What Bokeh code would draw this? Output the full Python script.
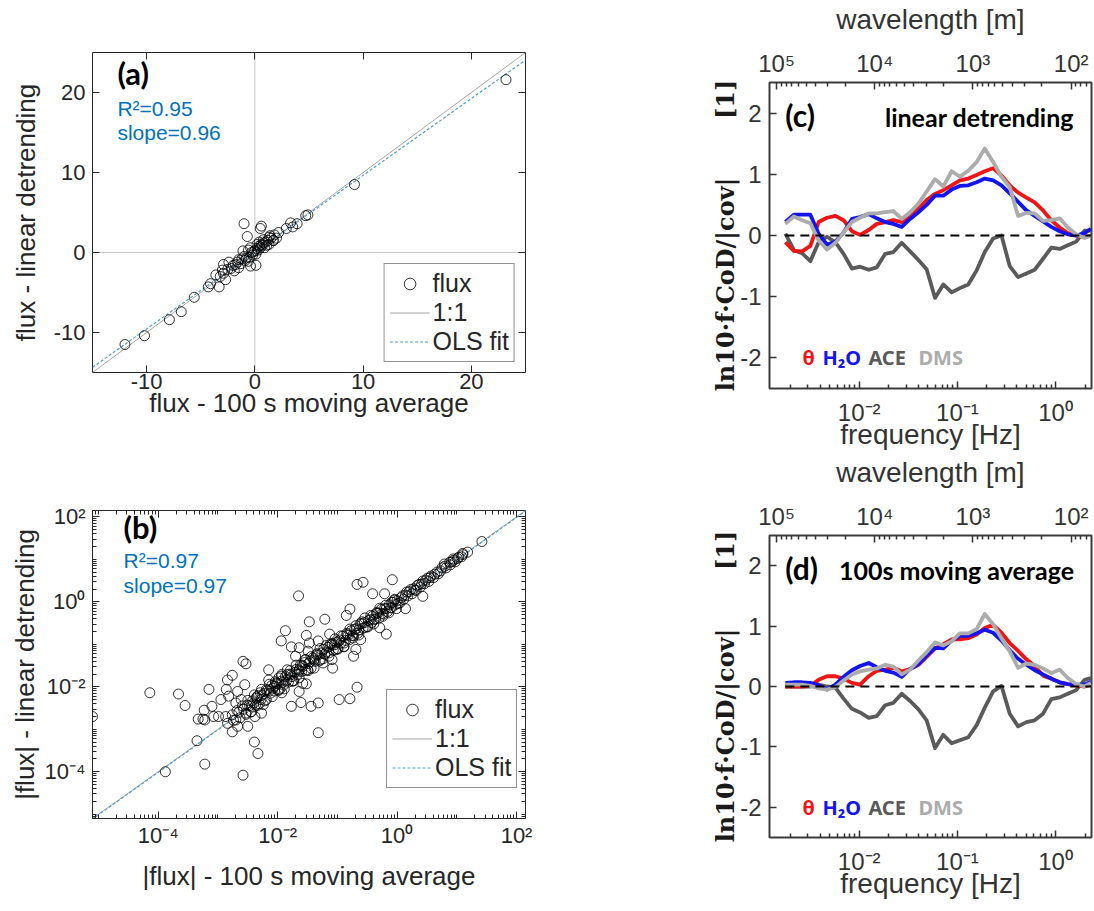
from bokeh.plotting import figure
from bokeh.layouts import row, column
from bokeh.models import (Range1d, LinearAxis, LogAxis, LogScale, FixedTicker, Span, Label,
                          Legend, LegendItem, CustomJSTickFormatter)
from bokeh.embed import file_html
from bokeh.resources import INLINE

# ------------------------------------------------------------------ data
# (a) flux from 100 s moving average (x) vs linear detrending (y)
a_x = [23.2, 9.2, 4.7, 4.9, -1.0, 0.6, 0.5, -0.7, 3.3, 3.9, 2.9, 3.5, 1.4, 2.2, 1.8,
       0.1, -0.4, -2.9, -3.0, -2.9, -3.2, -4.1, -4.3, -3.3, -5.6, -6.8, -7.9, -10.2, -12.0,
       -2.5, -2.0, -1.5, -1.6, -1.2, -1.0, -0.8, -0.6, -0.3, 0.0, 0.2, 0.4, 0.6, 0.8, 1.0,
       1.2, 1.5, 0.3, -0.2, 0.5, 0.7, -0.5, -0.9, -1.8, -2.2, 1.1, 0.9, 1.3, -1.3, -0.1,
       0.1, -0.4, -1.1, 0.4, 1.7, 2.0, -3.6, -2.7, -2.4, -1.9, 0.2, 0.8, -0.6, 1.3, -1.5, 1.7]
a_y = [21.6, 8.5, 4.6, 4.7, 3.6, 3.3, 3.0, 2.0, 3.7, 3.6, 3.0, 3.2, 2.1, 2.5, 2.2,
       -1.6, -1.7, -1.5, -2.2, -2.6, -3.0, -3.9, -4.3, -4.3, -5.6, -7.4, -8.4, -10.4, -11.5,
       -2.1, -1.6, -0.9, -1.2, -0.8, -0.5, -0.7, 0.3, 0.0, 0.2, 0.5, 0.8, 1.0, 1.2, 1.3,
       1.5, 1.8, 0.3, -0.3, 0.6, 0.9, -0.6, -1.0, -1.5, -2.0, 0.9, 0.6, 1.0, -1.4, 0.1,
       -0.2, 0.6, 0.2, 1.3, 1.5, 1.8, -2.8, -3.4, -1.2, -2.3, 1.0, 1.6, -1.1, 1.9, -1.9, 1.5]
stats_a = {"R2": 0.95, "slope": 0.96, "intercept": 0.05}

# (b) |flux| values as log10 exponents
# scattered points
b_out_x = [-5.10, -4.14, -3.66, -3.55, -3.88, -3.22, -3.35, -2.58, -2.39, -2.33, -1.32, -3.33,
           -3.25, -3.22, -3.07, -2.99, -2.87, -3.23, -3.10, -3.15, -2.95, -2.86, -2.84, -2.76,
           -2.58, -2.53, -2.82, -2.70, -2.61, -2.67, -2.55, -2.76, -2.67, -2.84, -2.50, -2.38,
           -2.27, -2.53, -2.44, -2.35, -2.27, -2.15, -2.15, -2.05, -1.98, -1.93, -1.84, -1.93,
           -1.77, -1.61, -1.44, -1.32, -0.67, -0.97, -0.79, -1.64, -1.58, -1.52, -1.76, -1.64,
           -1.53, -1.70, -1.94, -1.87, -1.77, -1.64, -1.49, -1.47, -1.52, -1.32, -1.47, -1.21,
           -1.13, -1.01, -1.09, -1.08, -1.24, -0.89, -0.69, -0.73, -0.61, -0.85, -0.79, -0.67,
           -0.57, -0.41, -0.21, -0.08, -0.01, 0.14, 0.43, -0.29, -0.18, -1.65,
           1.42, 1.18, 1.10, 0.94, 0.88, 0.79]
b_out_y = [-2.70, -2.14, -2.17, -2.44, -4.00, -3.82, -3.27, -4.08, -3.30, -3.57, -3.08, -2.76,
           -2.76, -2.78, -2.70, -2.70, -2.70, -2.55, -2.46, -2.06, -2.30, -2.06, -1.84, -1.73,
           -1.40, -1.46, -2.22, -2.38, -2.30, -2.11, -1.95, -3.06, -2.93, -2.86, -2.93, -2.70,
           -2.62, -2.62, -2.46, -2.27, -2.06, -1.60, -1.84, -1.98, -1.79, -1.71, -1.60, -2.14,
           -2.46, -2.37, -2.46, -2.38, -2.01, -2.30, -2.28, -2.11, -1.92, -1.93, -1.76, -1.60,
           -1.36, -1.28, -0.92, -0.68, -1.06, -1.08, -1.16, -0.97, -0.79, -0.92, -0.47, -0.41,
           -0.76, -0.95, -1.36, -1.56, -1.44, -1.06, -1.12, -1.28, -0.89, -0.32, -0.17, 0.41,
           0.46, 0.19, 0.19, 0.52, -0.16, -0.16, 0.13, -0.61, -0.76, 0.14,
           1.42, 1.17, 1.14, 1.01, 0.93, 0.89]
# dense band close to the 1:1 line
b_band_x = [-2.76, -2.70, -2.65, -2.59, -2.53, -2.47, -2.42, -2.37, -2.33, -2.28, -2.23, -2.19,
            -2.14, -2.10, -2.05, -2.01, -1.96, -1.92, -1.87, -1.82, -1.78, -1.73, -1.69, -1.64,
            -1.60, -1.55, -1.50, -1.46, -1.41, -1.37, -1.32, -1.28, -1.23, -1.18, -1.14, -1.09,
            -1.05, -1.00, -0.96, -0.91, -0.86, -0.82, -0.77, -0.73, -0.68, -0.64, -0.59, -0.55,
            -0.50, -0.45, -0.41, -0.36, -0.32, -0.27, -0.23, -0.18, -0.13, -0.09, -0.04, 0.00,
            0.05, 0.09, 0.14, 0.18, 0.23, 0.28, 0.32, 0.37, 0.41, 0.46, 0.51, 0.55, 0.61, 0.67,
            0.73, 0.80, 0.89, 0.95, 1.01, 1.08,
            -2.74, -2.68, -2.63, -2.57, -2.51, -2.45, -2.40, -2.35, -2.31, -2.26, -2.21, -2.17,
            -2.12, -2.08, -2.03, -1.99, -1.94, -1.90, -1.85, -1.80, -1.76, -1.71, -1.67, -1.62,
            -1.58, -1.53, -1.48, -1.44, -1.39, -1.35, -1.30, -1.26, -1.21, -1.16, -1.12, -1.07,
            -1.03, -0.98, -0.94, -0.89, -0.84, -0.80, -0.75, -0.71, -0.66, -0.62, -0.57, -0.53,
            -0.48, -0.43, -0.39, -0.34, -0.30, -0.25, -0.21, -0.16, -0.11, -0.07, -0.02, 0.02,
            0.07, 0.11, 0.16, 0.20, 0.25, 0.30, 0.34, 0.39, 0.43, 0.48, 0.53, 0.57, 0.63, 0.69,
            0.75, 0.82, 0.91, 0.97, 1.03, 1.10,
            -2.50, -2.44, -2.39, -2.34, -2.29, -2.24, -2.19, -2.14, -2.09, -2.04, -1.99, -1.94,
            -1.89, -1.84, -1.79, -1.74, -1.69, -1.64, -1.59, -1.54, -1.49, -1.44, -1.39, -1.34,
            -1.29, -1.24, -1.19, -1.14, -1.09, -1.04, -0.99, -0.94, -0.89, -0.84, -0.79, -0.74,
            -0.69, -0.64, -0.59, -0.54, -0.49, -0.44, -0.39, -0.34, -0.29, -0.24, -0.19, -0.14,
            -0.09, -0.04]
b_band_y = [-2.66, -2.78, -2.60, -2.45, -2.65, -2.44, -2.33, -2.43, -2.21, -2.30, -2.16, -2.30,
            -2.10, -1.97, -2.10, -1.93, -2.05, -1.90, -1.76, -1.89, -1.72, -1.86, -1.59, -1.63,
            -1.64, -1.43, -1.60, -1.41, -1.32, -1.40, -1.25, -1.36, -1.12, -1.18, -1.20, -1.01,
            -1.01, -1.10, -0.90, -0.81, -0.91, -0.79, -0.68, -0.80, -0.63, -0.66, -0.51, -0.49,
            -0.58, -0.42, -0.34, -0.40, -0.27, -0.18, -0.29, -0.16, -0.07, -0.14, 0.04, 0.03,
            -0.02, 0.14, 0.16, 0.14, 0.29, 0.31, 0.27, 0.41, 0.42, 0.43, 0.56, 0.57, 0.57, 0.70,
            0.73, 0.84, 0.87, 0.98, 1.02, 1.06,
            -2.79, -2.56, -2.73, -2.53, -2.43, -2.59, -2.38, -2.24, -2.40, -2.20, -2.33, -2.08,
            -2.15, -2.03, -1.91, -2.09, -1.87, -1.96, -1.85, -1.70, -1.87, -1.66, -1.71, -1.49,
            -1.52, -1.61, -1.45, -1.56, -1.37, -1.25, -1.39, -1.20, -1.23, -1.07, -1.00, -1.14,
            -1.13, -0.93, -0.97, -0.97, -0.77, -0.89, -0.79, -0.65, -0.74, -0.52, -0.62, -0.60,
            -0.44, -0.49, -0.42, -0.27, -0.38, -0.27, -0.16, -0.23, -0.14, -0.01, -0.06, -0.04,
            0.10, 0.06, 0.23, 0.24, 0.19, 0.28, 0.39, 0.35, 0.49, 0.51, 0.48, 0.61, 0.65, 0.66,
            0.80, 0.80, 0.94, 0.94, 1.05, 1.11,
            -2.32, -2.59, -2.19, -2.44, -2.14, -2.42, -2.07, -1.94, -2.23, -1.88, -2.07, -1.75,
            -2.05, -1.71, -1.62, -1.86, -1.49, -1.79, -1.49, -1.36, -1.62, -1.29, -1.56, -1.22,
            -1.10, -1.34, -1.03, -1.28, -0.98, -0.87, -1.11, -0.80, -1.05, -0.74, -0.64, -0.85,
            -0.56, -0.78, -0.47, -0.38, -0.59, -0.32, -0.52, -0.25, -0.15, -0.34, -0.08, -0.26,
            -0.01, 0.06]
stats_b = {"R2": 0.97, "slope": 0.97}

# (c), (d) normalised cospectra
freq = [0.00177, 0.00216, 0.00262, 0.00318, 0.00386, 0.0047, 0.00572, 0.00693, 0.00843,
        0.0102, 0.0125, 0.0151, 0.0184, 0.0223, 0.0271, 0.033, 0.0401, 0.0486, 0.0592,
        0.0718, 0.0873, 0.106, 0.129, 0.157, 0.19, 0.231, 0.281, 0.341, 0.415, 0.504,
        0.612, 0.745, 0.904, 1.1, 1.33, 1.62, 1.97, 2.29]
c_theta = [-0.11, -0.25, -0.26, -0.17, 0.22, 0.29, 0.32, 0.25, 0.07, 0.01, 0.09, 0.19, 0.22,
           0.25, 0.22, 0.30, 0.44, 0.58, 0.68, 0.74, 0.82, 0.90, 0.93, 0.99, 1.05, 1.10, 0.98,
           0.82, 0.70, 0.62, 0.54, 0.41, 0.25, 0.13, 0.04, 0.0, -0.03, 0.0]
c_h2o = [0.22, 0.34, 0.34, 0.34, 0.03, -0.15, -0.10, 0.05, 0.27, 0.30, 0.35, 0.28, 0.22, 0.19,
         0.14, 0.27, 0.38, 0.50, 0.65, 0.65, 0.75, 0.81, 0.82, 0.87, 0.93, 0.90, 0.82, 0.69,
         0.55, 0.41, 0.32, 0.23, 0.14, 0.07, 0.02, 0.0, 0.04, 0.11]
c_ace = [0.03, -0.24, -0.29, -0.42, -0.11, -0.02, -0.11, -0.30, -0.54, -0.51, -0.56, -0.52,
         -0.30, -0.27, -0.12, -0.26, -0.40, -0.55, -1.02, -0.80, -0.93, -0.86, -0.80, -0.57,
         -0.27, -0.05, 0.0, -0.50, -0.68, -0.62, -0.56, -0.38, -0.20, -0.22, -0.16, -0.10,
         0.08, 0.08]
c_dms = [0.19, 0.31, 0.25, 0.20, -0.08, -0.23, -0.12, 0.05, 0.22, 0.29, 0.36, 0.36, 0.38,
         0.40, 0.27, 0.38, 0.52, 0.72, 0.92, 0.80, 1.05, 0.96, 1.06, 1.20, 1.42, 1.20, 0.96,
         0.79, 0.32, 0.37, 0.36, 0.24, 0.25, 0.28, 0.13, 0.02, -0.04, 0.0]
d_theta = [0.0, 0.0, 0.0, 0.01, 0.11, 0.17, 0.17, 0.13, 0.06, 0.03, 0.17, 0.26, 0.28, 0.31,
           0.25, 0.29, 0.36, 0.49, 0.63, 0.70, 0.78, 0.78, 0.80, 0.86, 0.97, 1.02, 0.89, 0.72,
           0.59, 0.45, 0.34, 0.18, 0.13, 0.07, 0.04, 0.02, 0.0, 0.03]
d_h2o = [0.06, 0.07, 0.07, 0.06, 0.02, -0.05, 0.03, 0.16, 0.27, 0.34, 0.39, 0.32, 0.26, 0.23,
         0.16, 0.29, 0.37, 0.51, 0.64, 0.63, 0.76, 0.84, 0.84, 0.88, 0.94, 0.89, 0.76, 0.60,
         0.46, 0.36, 0.27, 0.20, 0.13, 0.07, 0.04, 0.03, 0.03, 0.08]
d_ace = [0.0, 0.0, 0.0, 0.0, 0.03, 0.0, -0.02, -0.20, -0.37, -0.43, -0.52, -0.49, -0.31, -0.27,
         -0.12, -0.24, -0.38, -0.56, -1.02, -0.80, -0.94, -0.89, -0.84, -0.64, -0.35, -0.08,
         0.01, -0.45, -0.66, -0.59, -0.56, -0.45, -0.21, -0.18, -0.12, -0.06, 0.11, 0.14]
d_dms = [0.03, 0.03, 0.03, 0.01, -0.03, -0.05, -0.01, 0.10, 0.20, 0.25, 0.28, 0.30, 0.36, 0.33,
         0.20, 0.28, 0.43, 0.57, 0.73, 0.68, 0.75, 0.88, 0.88, 0.95, 1.20, 1.03, 0.80, 0.58,
         0.31, 0.38, 0.36, 0.30, 0.22, 0.28, 0.14, 0.04, 0.0, 0.06]
series_names = ["θ", "H₂O", "ACE", "DMS"]
series_colors = ["#f01414", "#1414f0", "#5a5a5a", "#acacac"]
U_air = 144.0   # m/s, converts frequency to wavelength

# ------------------------------------------------------------------ style helpers
SANS = "Liberation Sans"
INK = "#262626"
NBSP = "\u00a0"


def log_fmt():
    return CustomJSTickFormatter(code="""
        const e = Math.round(Math.log10(tick));
        const m = {"-":"\u207b","0":"\u2070","1":"\u00b9","2":"\u00b2","3":"\u00b3",
                   "4":"\u2074","5":"\u2075","6":"\u2076","7":"\u2077","8":"\u2078","9":"\u2079"};
        return "10" + String(e).split("").map(c => m[c]).join("");
    """)


def lin_fmt():
    return CustomJSTickFormatter(code="return String(tick);")


def empty_fmt():
    return CustomJSTickFormatter(code="return '';")


def minor_list(lo, hi, majors):
    out = []
    for n in range(lo, hi + 1):
        for k in range(1, 10):
            v = k * 10.0 ** n
            if all(abs(v - m) / m > 1e-9 for m in majors):
                out.append(v)
    return out


def style_axis(ax, tick_size="22px", label_size="26px", color=INK, lw=1):
    ax.major_label_text_font = SANS
    ax.major_label_text_font_size = tick_size
    ax.major_label_text_color = color
    ax.axis_label_text_font = SANS
    ax.axis_label_text_font_size = label_size
    ax.axis_label_text_font_style = "normal"
    ax.axis_label_text_color = color
    ax.major_tick_in = 7
    ax.major_tick_out = 0
    ax.minor_tick_in = 4
    ax.minor_tick_out = 0
    ax.major_tick_line_color = color
    ax.minor_tick_line_color = color
    ax.major_tick_line_width = lw
    ax.minor_tick_line_width = lw
    ax.axis_line_color = None


def mirror_axis(p, cls, loc, ticker):
    ax = cls(ticker=ticker, formatter=empty_fmt())
    style_axis(ax)
    ax.axis_label = None
    ax.major_label_text_font_size = "1px"
    ax.major_label_standoff = 0
    p.add_layout(ax, loc)


def add_legend(p, rpts, r11, rols, location):
    leg = Legend(items=[LegendItem(label="flux", renderers=[rpts]),
                        LegendItem(label="1:1", renderers=[r11]),
                        LegendItem(label="OLS fit", renderers=[rols])],
                 location=location)
    leg.label_text_font = SANS
    leg.label_text_font_size = "25px"
    leg.label_text_color = INK
    leg.border_line_color = INK
    leg.border_line_width = 1
    leg.background_fill_color = "white"
    leg.background_fill_alpha = 1
    leg.padding = 5
    leg.spacing = 0
    leg.margin = 10
    leg.glyph_width = 40
    leg.glyph_height = 29
    leg.label_height = 29
    leg.label_standoff = 3
    p.add_layout(leg)


def stat_labels(p, x, ys, tag, stats):
    p.add_layout(Label(x=x, y=ys[0], text=tag, text_font="Lato", text_font_style="bold",
                       text_font_size="31px", text_color="black", text_baseline="middle"))
    p.add_layout(Label(x=x, y=ys[1], text="R²=%.2f" % stats["R2"], text_font=SANS,
                       text_font_size="21px", text_color="#0072BD", text_baseline="middle"))
    p.add_layout(Label(x=x, y=ys[2], text="slope=%.2f" % stats["slope"], text_font=SANS,
                       text_font_size="21px", text_color="#0072BD", text_baseline="middle"))


def new_fig(**kw):
    p = figure(output_backend="svg", toolbar_location=None, title=None,
               background_fill_color="white", **kw)
    p.grid.visible = False
    return p


# ------------------------------------------------------------------ (a)
A_LIM = [-15, 25]
A_TICKS = [-10, 0, 10, 20]
pa = new_fig(frame_width=433, frame_height=320, x_range=Range1d(*A_LIM), y_range=Range1d(*A_LIM),
             min_border_left=92, min_border_right=20, min_border_top=52, min_border_bottom=77)
pa.outline_line_color = INK
pa.xaxis.axis_label = "flux - 100 s moving average"
pa.yaxis.axis_label = "flux - linear detrending"
for ax in list(pa.xaxis) + list(pa.yaxis):
    ax.ticker = FixedTicker(ticks=A_TICKS)
    ax.formatter = lin_fmt()
    style_axis(ax)
pa.xaxis.major_label_standoff = 1
pa.xaxis.axis_label_standoff = -4
pa.yaxis.major_label_standoff = 7
pa.yaxis.axis_label_standoff = 10
mirror_axis(pa, LinearAxis, "above", FixedTicker(ticks=A_TICKS))
mirror_axis(pa, LinearAxis, "right", FixedTicker(ticks=A_TICKS))
pa.add_layout(Span(location=0, dimension="height", line_color="#c8c8c8", line_width=1, level="underlay"))
pa.add_layout(Span(location=0, dimension="width", line_color="#c8c8c8", line_width=1, level="underlay"))
r11 = pa.line(A_LIM, A_LIM, line_color="#a6a6a6", line_width=1)
ols_a = [stats_a["slope"] * v + stats_a["intercept"] for v in A_LIM]
rols = pa.line(A_LIM, ols_a, line_color="#4f9fd4", line_width=1.2, line_dash="3 2")
rpa = pa.scatter(a_x, a_y, size=10, marker="circle", fill_color=None, line_color="black", line_width=0.8)
add_legend(pa, rpa, r11, rols, "bottom_right")
stat_labels(pa, -12.7, [22.5, 18.0, 15.0], "(a)", stats_a)

# ------------------------------------------------------------------ (b)
B_LIM = [10 ** -5.1, 10 ** 2.15]
B_TICKS = [1e-4, 1e-2, 1e0, 1e2]
b_minor = minor_list(-6, 2, B_TICKS)
pb = new_fig(frame_width=433, frame_height=308, x_axis_type="log", y_axis_type="log",
             x_range=Range1d(*B_LIM), y_range=Range1d(*B_LIM),
             min_border_left=92, min_border_right=20, min_border_top=61, min_border_bottom=92)
pb.outline_line_color = INK
for ax in list(pb.xaxis) + list(pb.yaxis):
    ax.ticker = FixedTicker(ticks=B_TICKS, minor_ticks=b_minor)
    ax.formatter = log_fmt()
    style_axis(ax)
pb.xaxis.axis_label = "|flux| - 100 s moving average"
pb.yaxis.axis_label = "|flux| - linear detrending"
pb.xaxis.major_label_standoff = 4
pb.xaxis.axis_label_standoff = 10
pb.yaxis.major_label_standoff = 7
pb.yaxis.axis_label_standoff = 2
mirror_axis(pb, LogAxis, "above", FixedTicker(ticks=B_TICKS, minor_ticks=b_minor))
mirror_axis(pb, LogAxis, "right", FixedTicker(ticks=B_TICKS, minor_ticks=b_minor))
b_x = [10 ** v for v in b_out_x + b_band_x]
b_y = [10 ** v for v in b_out_y + b_band_y]
r11b = pb.line(B_LIM, B_LIM, line_color="#a6a6a6", line_width=1)
rolsb = pb.line(B_LIM, [stats_b["slope"] * v for v in B_LIM], line_color="#4f9fd4",
                line_width=1.2, line_dash="3 2")
rpb = pb.scatter(b_x, b_y, size=10, marker="circle", fill_color=None, line_color="black", line_width=0.8)
add_legend(pb, rpb, r11b, rolsb, (294, 30))
stat_labels(pb, 10 ** -4.58, [10 ** 1.75, 10 ** 0.97, 10 ** 0.39], "(b)", stats_b)

# ------------------------------------------------------------------ (c), (d)
F_LIM = [0.00122, 2.32]
F_TICKS = [1e-2, 1e-1, 1e0]
f_minor = minor_list(-3, 0, F_TICKS)
WL_TICKS = [1e2, 1e3, 1e4, 1e5]
wl_minor = minor_list(1, 5, WL_TICKS)
SP_INK = "#333333"
YLAB = "ln10·f·CoD/|cov|" + NBSP * 7 + "[1]"


def spectra(tag, title, series, top, fh, bottom):
    p = new_fig(frame_width=322, frame_height=fh, x_axis_type="log",
                x_range=Range1d(*F_LIM), y_range=Range1d(-2.5, 2.5),
                min_border_left=224, min_border_right=2, min_border_top=top, min_border_bottom=bottom)
    p.outline_line_color = "#3c3c3c"
    p.outline_line_width = 2
    p.xaxis.ticker = FixedTicker(ticks=F_TICKS, minor_ticks=f_minor)
    p.xaxis.formatter = log_fmt()
    p.xaxis.axis_label = "frequency [Hz]"
    p.yaxis.ticker = FixedTicker(ticks=[-2, -1, 0, 1, 2])
    p.yaxis.formatter = lin_fmt()
    p.yaxis.axis_label = YLAB
    for ax in list(p.xaxis) + list(p.yaxis):
        style_axis(ax, tick_size="24px", label_size="28px", color=SP_INK, lw=1.5)
    p.yaxis.axis_label_text_font = "DejaVu Serif"
    p.yaxis.axis_label_text_font_style = "bold"
    p.yaxis.axis_label_text_font_size = "24px"
    p.yaxis.axis_label_text_color = "#1a1a1a"
    p.yaxis.major_label_standoff = 8
    p.yaxis.axis_label_standoff = -3
    p.xaxis.major_label_standoff = 10
    p.xaxis.axis_label_standoff = -10
    p.extra_x_ranges = {"wl": Range1d(U_air / F_LIM[0], U_air / F_LIM[1])}
    p.extra_x_scales = {"wl": LogScale()}
    top_ax = LogAxis(x_range_name="wl", axis_label="wavelength [m]",
                     ticker=FixedTicker(ticks=WL_TICKS, minor_ticks=wl_minor), formatter=log_fmt())
    style_axis(top_ax, tick_size="24px", label_size="28px", color=SP_INK, lw=1.5)
    top_ax.major_label_standoff = 6
    top_ax.axis_label_standoff = 12
    p.add_layout(top_ax, "above")
    for vals, col in zip([series[2], series[0], series[1], series[3]],
                         [series_colors[2], series_colors[0], series_colors[1], series_colors[3]]):
        p.line(freq, vals, line_color=col, line_width=3.8, line_join="round")
    p.line([freq[0], freq[-1]], [0, 0], line_color="black", line_width=2, line_dash="9 6")
    p.add_layout(Label(x=0.00177, y=1.97, text=tag, text_font="Lato", text_font_style="bold",
                       text_font_size="30px", text_color="black", text_baseline="middle"))
    p.add_layout(Label(x=1.54, y=1.93, text=title, text_font="Lato", text_font_style="bold",
                       text_font_size="25px", text_color="black", text_baseline="middle",
                       text_align="right"))
    for name, col, off in zip(series_names, series_colors, [0, 20, 66, 116]):
        p.add_layout(Label(x=0.00264, y=-2.0, x_offset=off, text=name, text_font="Noto Sans",
                           text_font_style="bold", text_font_size="20px", text_color=col,
                           text_baseline="middle"))
    return p


pc = spectra("(c)", "linear detrending", [c_theta, c_h2o, c_ace, c_dms], 82, 306, 61)
pd = spectra("(d)", "100s moving average", [d_theta, d_h2o, d_ace, d_dms], 83, 302, 75)

layout = row(column(pa, pb), column(pc, pd))
with open("out.html", "w", encoding="utf-8") as fh:
    fh.write(file_html(layout, INLINE, title="flux detrending comparison"))
